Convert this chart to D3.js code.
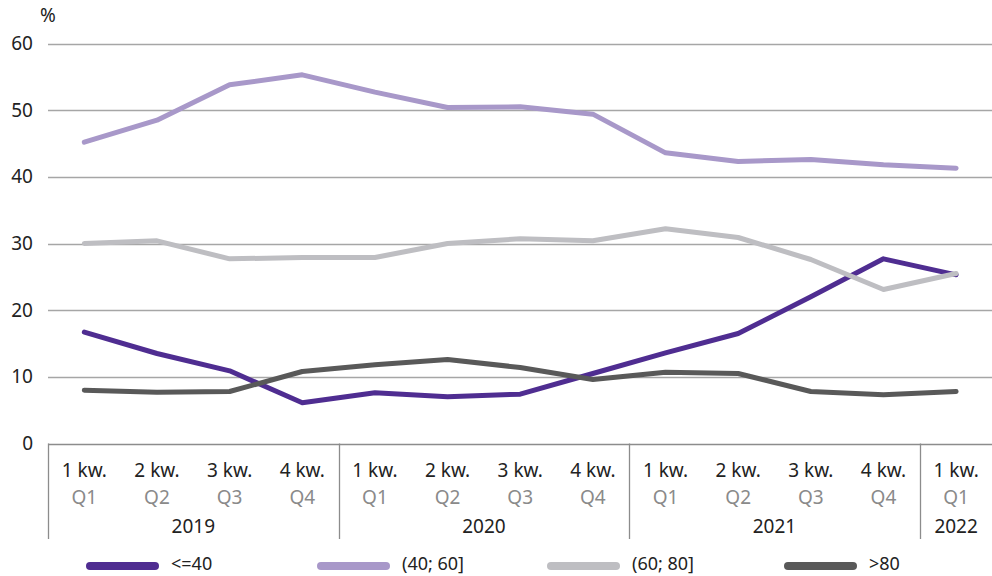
<!DOCTYPE html>
<html>
<head>
<meta charset="utf-8">
<script src="https://cdn.jsdelivr.net/npm/d3@7"></script>
<style>
  body { margin: 0; background: #fff; }
  svg { font-family: "Noto Sans", "Open Sans", sans-serif; }
</style>
</head>
<body>
<svg id="chart" width="992" height="576"></svg>
<script>
// quarters 2019 Q1 .. 2022 Q1
var kwLabels = ["1 kw.","2 kw.","3 kw.","4 kw.","1 kw.","2 kw.","3 kw.","4 kw.","1 kw.","2 kw.","3 kw.","4 kw.","1 kw."]
var qLabels  = ["Q1","Q2","Q3","Q4","Q1","Q2","Q3","Q4","Q1","Q2","Q3","Q4","Q1"]
var years    = [{name:"2019", n:4}, {name:"2020", n:4}, {name:"2021", n:4}, {name:"2022", n:1}]
var yTicks   = [0,10,20,30,40,50,60]

var seriesNames = ["<=40", "(40; 60]", "(60; 80]", ">80"]
var seriesColors = ["#4f2d91", "#a898c9", "#bebec2", "#595959"]
var le40   = [16.7, 13.5, 10.9, 6.1, 7.6, 7.0, 7.4, 10.5, 13.6, 16.5, 22.0, 27.7, 25.3]
var s40_60 = [45.2, 48.5, 53.8, 55.3, 52.7, 50.4, 50.5, 49.4, 43.6, 42.3, 42.6, 41.8, 41.3]
var s60_80 = [30.0, 30.4, 27.7, 27.9, 27.9, 30.0, 30.7, 30.4, 32.2, 30.9, 27.6, 23.1, 25.5]
var gt80   = [8.0, 7.7, 7.8, 10.8, 11.8, 12.6, 11.4, 9.6, 10.7, 10.5, 7.8, 7.3, 7.8]
var allSeries = [le40, s40_60, s60_80, gt80]

var svg = d3.select("#chart")
var pLeft = 48, pRight = 992, pTop = 43.5, pBottom = 443.5

var x = d3.scaleBand().domain(d3.range(kwLabels.length)).range([pLeft, pLeft + 72.65*13])
var y = d3.scaleLinear().domain([0, 60]).range([pBottom, pTop])

/*** grid + y labels ***/
var g = svg.append("g")
g.selectAll("line.grid")
 .data(yTicks.filter(function(t){return t > 0}))
 .enter().append("line")
 .attr("x1", pLeft).attr("x2", pRight)
 .attr("y1", function(d){return Math.round(y(d)) + 0.5})
 .attr("y2", function(d){return Math.round(y(d)) + 0.5})
 .attr("stroke", "#a6a6a6").attr("stroke-width", 1.3)

g.selectAll("text.ytick")
 .data(yTicks)
 .enter().append("text")
 .attr("x", 33).attr("y", function(d){return y(d)})
 .attr("dy", "0.35em")
 .attr("text-anchor", "end")
 .attr("font-size", 19).attr("fill", "#222")
 .text(function(d){return d})

svg.append("text").attr("x", 48).attr("y", 22).attr("text-anchor", "middle")
   .attr("font-size", 19).attr("fill", "#222").text("%")

/*** x axis ***/
var ax = svg.append("g")
ax.append("line").attr("x1", pLeft).attr("x2", pRight)
  .attr("y1", Math.round(pBottom) + 0.5).attr("y2", Math.round(pBottom) + 0.5)
  .attr("stroke", "#8c8c8c").attr("stroke-width", 1.3)

var bounds = [0]
years.forEach(function(yr){ bounds.push(bounds[bounds.length-1] + yr.n) })
ax.selectAll("line.sep")
  .data(bounds.slice(0, 4))
  .enter().append("line")
  .attr("x1", function(d){return Math.round(x(d)) + 0.5})
  .attr("x2", function(d){return Math.round(x(d)) + 0.5})
  .attr("y1", pBottom).attr("y2", 539)
  .attr("stroke", "#8c8c8c").attr("stroke-width", 1.3)

ax.selectAll("text.kw")
  .data(kwLabels)
  .enter().append("text")
  .attr("x", function(d,i){return x(i) + x.bandwidth()/2})
  .attr("y", 477).attr("text-anchor", "middle")
  .attr("font-size", 19).attr("fill", "#222")
  .text(function(d){return d})

ax.selectAll("text.q")
  .data(qLabels)
  .enter().append("text")
  .attr("x", function(d,i){return x(i) + x.bandwidth()/2})
  .attr("y", 504).attr("text-anchor", "middle")
  .attr("font-size", 19).attr("fill", "#8a8a8a")
  .text(function(d){return d})

ax.selectAll("text.yr")
  .data(years)
  .enter().append("text")
  .attr("x", function(d,i){
      var a = x(bounds[i]), b = bounds[i+1] < kwLabels.length ? x(bounds[i+1]) : x(bounds[i]) + x.bandwidth()
      return (a + b)/2
  })
  .attr("y", 533).attr("text-anchor", "middle")
  .attr("font-size", 19).attr("fill", "#222")
  .text(function(d){return d.name})

/*** lines ***/
var line = d3.line()
  .x(function(d,i){return x(i) + x.bandwidth()/2})
  .y(function(d){return y(d)})

svg.append("g").selectAll("path")
  .data(allSeries)
  .enter().append("path")
  .attr("d", function(d){return line(d)})
  .attr("fill", "none")
  .attr("stroke", function(d,i){return seriesColors[i]})
  .attr("stroke-width", 5)
  .attr("stroke-linejoin", "round")
  .attr("stroke-linecap", "round")

/*** legend ***/
var legX = [90, 321, 551, 788]
var lg = svg.append("g").selectAll("g")
  .data(seriesNames)
  .enter().append("g")
  .attr("transform", function(d,i){return "translate(" + legX[i] + ",566)"})
lg.append("line").attr("x1", 0).attr("x2", 65).attr("y1", 0).attr("y2", 0)
  .attr("stroke", function(d,i){return seriesColors[i]})
  .attr("stroke-width", 8).attr("stroke-linecap", "round")
lg.append("text").attr("x", 81).attr("y", 4)
  .attr("font-size", 18).attr("fill", "#222")
  .text(function(d){return d})
</script>
</body>
</html>
